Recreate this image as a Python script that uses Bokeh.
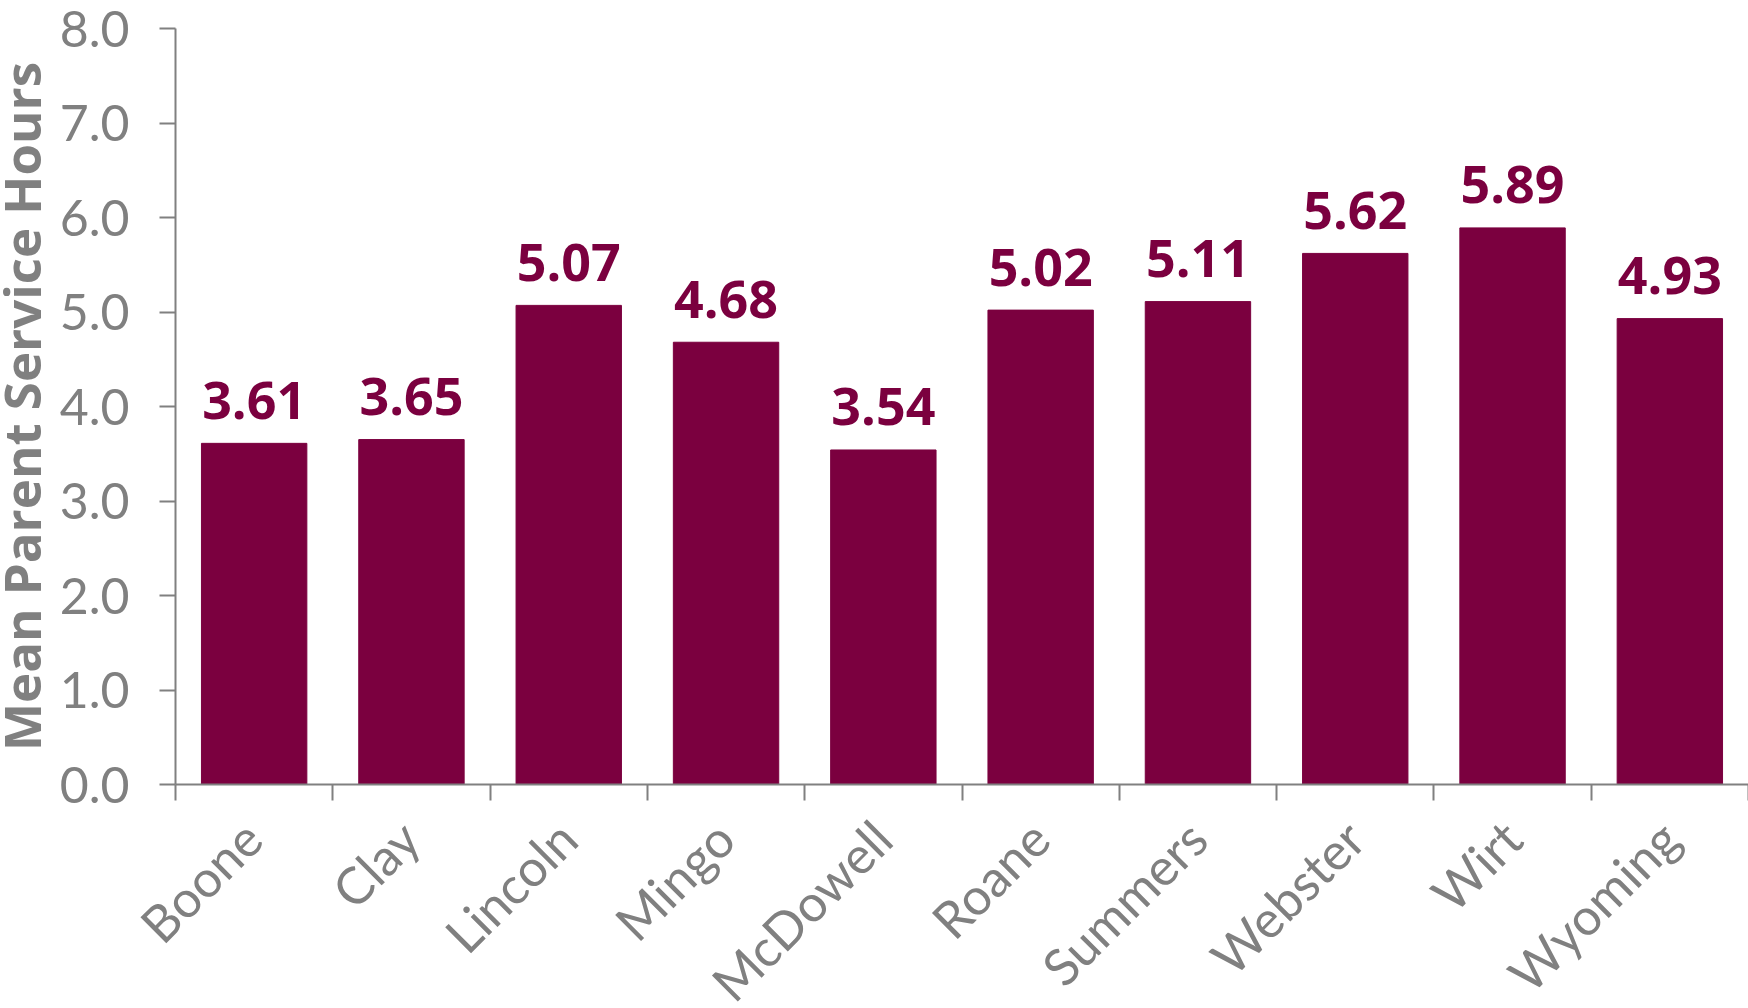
import math
from bokeh.plotting import figure
from bokeh.layouts import row, column
from bokeh.models import FixedTicker, Range1d, ColumnDataSource, PrintfTickFormatter
from bokeh.core.properties import value
from bokeh.embed import file_html
from bokeh.resources import INLINE

counties = ["Boone", "Clay", "Lincoln", "Mingo", "McDowell",
            "Roane", "Summers", "Webster", "Wirt", "Wyoming"]
mean_hours = [3.61, 3.65, 5.07, 4.68, 3.54, 5.02, 5.11, 5.62, 5.89, 4.93]
y_ticks = [0, 1, 2, 3, 4, 5, 6, 7, 8]
y_title = "Mean Parent Service Hours"

MAROON = "#7B003F"
GRAY = "#808080"
FONT = "Lato"
BOLD_FONT = "Open Sans"

# layout geometry (pixels)
TOTAL_W = 1748
TITLE_W = 56
FRAME_LEFT = 173
MAIN_W = TOTAL_W - TITLE_W
LEFT_B = FRAME_LEFT - TITLE_W
TOP_B = 28
BOT_B = 20
MAIN_H = 804
LAB_H = 200

n = len(counties)
xpos = [i + 0.5 for i in range(n)]
src = ColumnDataSource(dict(
    x=xpos,
    top=mean_hours,
    label=["%.2f" % v for v in mean_hours],
    base=[0] * n,
    name=counties,
))

x_range = Range1d(0, n)
y_range = Range1d(y_ticks[0], y_ticks[-1])

# ---------------- main chart ----------------
p = figure(width=MAIN_W, height=MAIN_H, x_range=x_range, y_range=y_range,
           output_backend="svg", toolbar_location=None,
           min_border_left=LEFT_B, min_border_right=0,
           min_border_top=TOP_B, min_border_bottom=BOT_B)
p.outline_line_color = None
p.xgrid.visible = False
p.ygrid.visible = False

p.vbar(x="x", top="top", bottom=0, width=0.67, source=src,
       fill_color=MAROON, line_color=MAROON)
p.text(x="x", y="top", text="label", source=src,
       text_align="center", text_baseline="alphabetic", y_offset=-43,
       text_font=value(BOLD_FONT), text_font_style="bold",
       text_font_size="52px", text_color=MAROON)

xa = p.xaxis[0]
xa.ticker = FixedTicker(ticks=xpos, minor_ticks=list(range(n + 1)))
xa.major_label_overrides = {xv: "" for xv in xpos}
xa.major_label_text_font_size = "0px"
xa.major_label_standoff = 0
xa.major_tick_out = 0
xa.major_tick_in = 0
xa.minor_tick_out = 16
xa.minor_tick_in = 0
xa.minor_tick_line_color = GRAY
xa.minor_tick_line_width = 2
xa.axis_line_color = GRAY
xa.axis_line_width = 2

ya = p.yaxis[0]
ya.ticker = FixedTicker(ticks=y_ticks, minor_ticks=[])
ya.formatter = PrintfTickFormatter(format="%.1f")
ya.major_tick_out = 16
ya.major_tick_in = 0
ya.major_tick_line_color = GRAY
ya.major_tick_line_width = 2
ya.axis_line_color = GRAY
ya.axis_line_width = 2
ya.major_label_standoff = 30
ya.major_label_text_font = FONT
ya.major_label_text_font_size = "50px"
ya.major_label_text_color = GRAY

# ---------------- y-axis title strip ----------------
t = figure(width=TITLE_W, height=MAIN_H, x_range=Range1d(0, TITLE_W), y_range=y_range,
           output_backend="svg", toolbar_location=None,
           x_axis_location=None, y_axis_location=None,
           min_border_left=0, min_border_right=0,
           min_border_top=TOP_B, min_border_bottom=BOT_B)
t.outline_line_color = None
t.xgrid.visible = False
t.ygrid.visible = False
t.text(x=[20], y=[(y_ticks[0] + y_ticks[-1]) / 2], text=[y_title],
       angle=math.pi / 2, text_align="center", text_baseline="middle",
       text_font=value(BOLD_FONT), text_font_style="bold",
       text_font_size="51px", text_color=GRAY)

# ---------------- category names strip (same x scale as chart) ----------------
cat_px = (TOTAL_W - FRAME_LEFT) / n
lab = figure(width=TOTAL_W, height=LAB_H,
             x_range=Range1d(-FRAME_LEFT / cat_px, n), y_range=Range1d(-1, 0),
             output_backend="svg", toolbar_location=None,
             x_axis_location=None, y_axis_location=None,
             min_border_left=0, min_border_right=0,
             min_border_top=0, min_border_bottom=0)
lab.outline_line_color = None
lab.xgrid.visible = False
lab.ygrid.visible = False
lab.text(x="x", y="base", text="name", source=src,
         angle=math.pi / 4, text_align="right", text_baseline="middle",
         y_offset=25, text_font=value(FONT), text_font_size="51px",
         text_color=GRAY)

layout = column(row(t, p), lab)

open("out.html", "w").write(file_html(layout, INLINE))
